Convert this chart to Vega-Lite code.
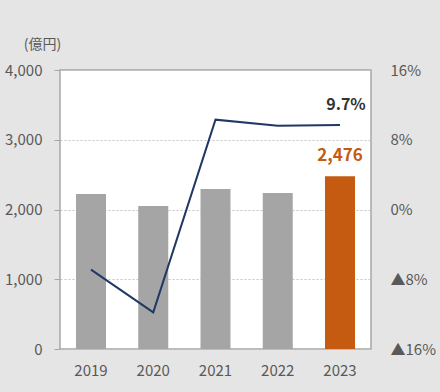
{
  "$schema": "https://vega.github.io/schema/vega-lite/v6.json",
  "autosize": "none",
  "width": 311,
  "height": 279,
  "padding": {"left": 60, "top": 70, "right": 69, "bottom": 43},
  "background": "#e5e5e5",
  "config": {
    "font": "Noto Sans CJK JP",
    "view": {"fill": "#ffffff", "stroke": "#a6a6a6", "strokeWidth": 1.5},
    "axis": {"labelFont": "Noto Sans CJK JP", "labelFontSize": 15, "labelColor": "#595959", "titleFont": "Noto Sans CJK JP"}
  },
  "data": {"values": [
    {"year": "2019", "sales": 2222, "rate": -6.9, "hl": "n"},
    {"year": "2020", "sales": 2050, "rate": -11.8, "hl": "n"},
    {"year": "2021", "sales": 2294, "rate": 10.3, "hl": "n"},
    {"year": "2022", "sales": 2237, "rate": 9.6, "hl": "n"},
    {"year": "2023", "sales": 2476, "rate": 9.7, "hl": "y", "salesLabel": "2,476", "rateLabel": "9.7%"}
  ]},
  "encoding": {
    "x": {"field": "year", "type": "ordinal", "title": null,
      "scale": {"paddingInner": 0.518, "paddingOuter": 0.257},
      "axis": {"labelAngle": 0, "ticks": false, "domain": false, "labelPadding": 14}}
  },
  "layer": [
    {
      "layer": [
        {
          "mark": {"type": "bar"},
          "encoding": {
            "y": {"field": "sales", "type": "quantitative", "scale": {"domain": [0, 4000], "nice": false},
              "axis": {"values": [0, 1000, 2000, 3000, 4000], "format": ",.0f", "grid": true, "gridColor": "#c4c4c4", "gridDash": [2, 2], "gridWidth": 1,
                "domain": false, "tickColor": "#a6a6a6", "tickSize": 6, "labelPadding": 12,
                "title": "(億円)", "titleAngle": 0, "titleAlign": "center", "titleBaseline": "alphabetic", "titleX": -18, "titleY": -22,
                "titleFontSize": 14, "titleFontWeight": "normal", "titleColor": "#595959"}},
            "color": {"field": "hl", "type": "nominal", "scale": {"domain": ["n", "y"], "range": ["#a5a5a5", "#c55a11"]}, "legend": null}
          }
        },
        {
          "mark": {"type": "text", "fontSize": 17, "fontWeight": "bold", "color": "#c55a11", "baseline": "alphabetic", "dy": -15},
          "transform": [{"filter": "datum.year == '2023'"}],
          "encoding": {
            "y": {"field": "sales", "type": "quantitative"},
            "text": {"field": "salesLabel"}
          }
        }
      ]
    },
    {
      "layer": [
        {
          "mark": {"type": "line", "color": "#1f3864", "strokeWidth": 2},
          "encoding": {
            "y": {"field": "rate", "type": "quantitative", "scale": {"domain": [-16, 16], "nice": false},
              "axis": {"orient": "right", "values": [-16, -8, 0, 8, 16], "labelExpr": "datum.value < 0 ? '▲' + (-datum.value) + '%' : datum.value + '%'",
                "grid": false, "domain": false, "ticks": false, "tickSize": 0, "labelPadding": 19, "title": null}}
          }
        },
        {
          "mark": {"type": "text", "fontSize": 16, "fontWeight": "bold", "color": "#333333", "baseline": "alphabetic", "dy": -15, "dx": 6},
          "transform": [{"filter": "datum.year == '2023'"}],
          "encoding": {
            "y": {"field": "rate", "type": "quantitative"},
            "text": {"field": "rateLabel"}
          }
        }
      ]
    }
  ],
  "resolve": {"scale": {"y": "independent", "color": "independent"}}
}
